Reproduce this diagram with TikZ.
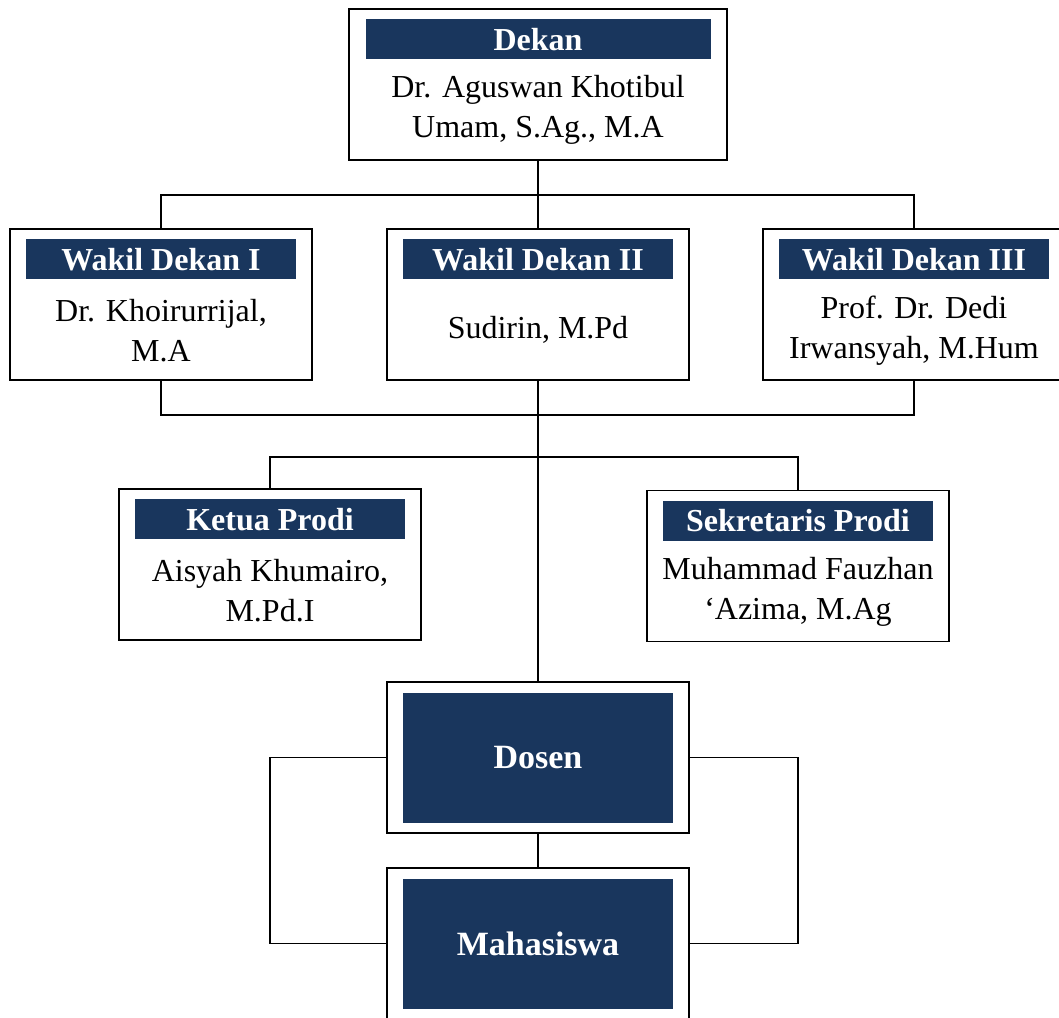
\documentclass[tikz,border=0pt]{standalone}
\usepackage{fontspec}
\setmainfont{Liberation Serif}
\usepackage{tikz}
\usetikzlibrary{positioning,calc}
\definecolor{navy}{RGB}{25,54,93}

\begin{document}
\begin{tikzpicture}[
x=1pt, y=-1pt,
unit/.style={
		draw=black,
		line width=1.8pt,
		minimum width=302pt,
		minimum height=151pt,
		inner sep=0pt,
		},
head/.style={
		fill=navy,
		text=white,
		font=\fontsize{32}{40}\selectfont\bfseries,
		minimum width=270pt,
		minimum height=40pt,
		inner sep=0pt,
		},
who/.style={
		align=center,
		font=\fontsize{32}{40}\selectfont,
		inner sep=0pt,
		},
block/.style={
		fill=navy,
		text=white,
		font=\fontsize{34}{40}\selectfont\bfseries,
		minimum width=270pt,
		minimum height=130pt,
		},
link/.style={line width=1.8pt}
]

\useasboundingbox (0,0) rectangle (1059,1017);

\def \gap {11pt} % from box top to the title bar

% dekan
\node[unit, minimum width=378pt] (dk) at (538,84.5) {};
\node[head, minimum width=345pt, below=\gap of dk.north] (dkh) {Dekan};
\node[who] (dkn) at ($(dkh.south)!0.5!(dk.south)$) {Dr. Aguswan Khotibul\\Umam, S.Ag., M.A};

% wakil dekan
\foreach \i/\x/\t/\nm in {1/161/Wakil Dekan I/{Dr. Khoirurrijal,\\M.A},
                          2/538/Wakil Dekan II/{Sudirin, M.Pd},
                          3/914/Wakil Dekan III/{Prof. Dr. Dedi\\Irwansyah, M.Hum}}
{
  \node[unit] (wd\i) at (\x,304.5) {};
  \node[head, below=\gap of wd\i.north] (wd\i h) {\t};
  \node[who] (wd\i n) at ($(wd\i h.south)!0.5!(wd\i.south)$) {\nm};
}

% prodi
\node[unit] (kp) at (270,564.5) {};
\node[head, below=\gap of kp.north] (kph) {Ketua Prodi};
\node[who] (kpn) at ($(kph.south)!0.5!(kp.south)$) {Aisyah Khumairo,\\M.Pd.I};

\node[unit] (sp) at (798,566) {};
\node[head, below=\gap of sp.north] (sph) {Sekretaris Prodi};
\node[who] (spn) at ($(sph.south)!0.5!(sp.south)$) {Muhammad Fauzhan\\`Azima, M.Ag};

% dosen dan mahasiswa
\node[unit] (ds) at (538,757.5) {};
\node[block] (dsb) at (ds.center) {Dosen};
\node[unit] (mh) at (538,943.5) {};
\node[block] (mhb) at (mh.center) {Mahasiswa};

\coordinate (j1) at (538,195);
\coordinate (j2) at (538,415);
\coordinate (j3) at (538,457);
\coordinate (bl) at (270,757.5);
\coordinate (br) at (798,757.5);

\draw[link] (dk.south) -- (j1) -- (wd2.north);
\draw[link] (wd1.north) |- (j1) -| (wd3.north);
\draw[link] (wd1.south) |- (j2) -| (wd3.south);
\draw[link] (wd2.south) -- (ds.north);
\draw[link] (kp.north) |- (j3) -| (sp.north);
\draw[link] (ds.south) -- (mh.north);
\draw[link] (ds.west) -- (bl) |- (mh.west);
\draw[link] (ds.east) -- (br) |- (mh.east);

\end{tikzpicture}
\end{document}
